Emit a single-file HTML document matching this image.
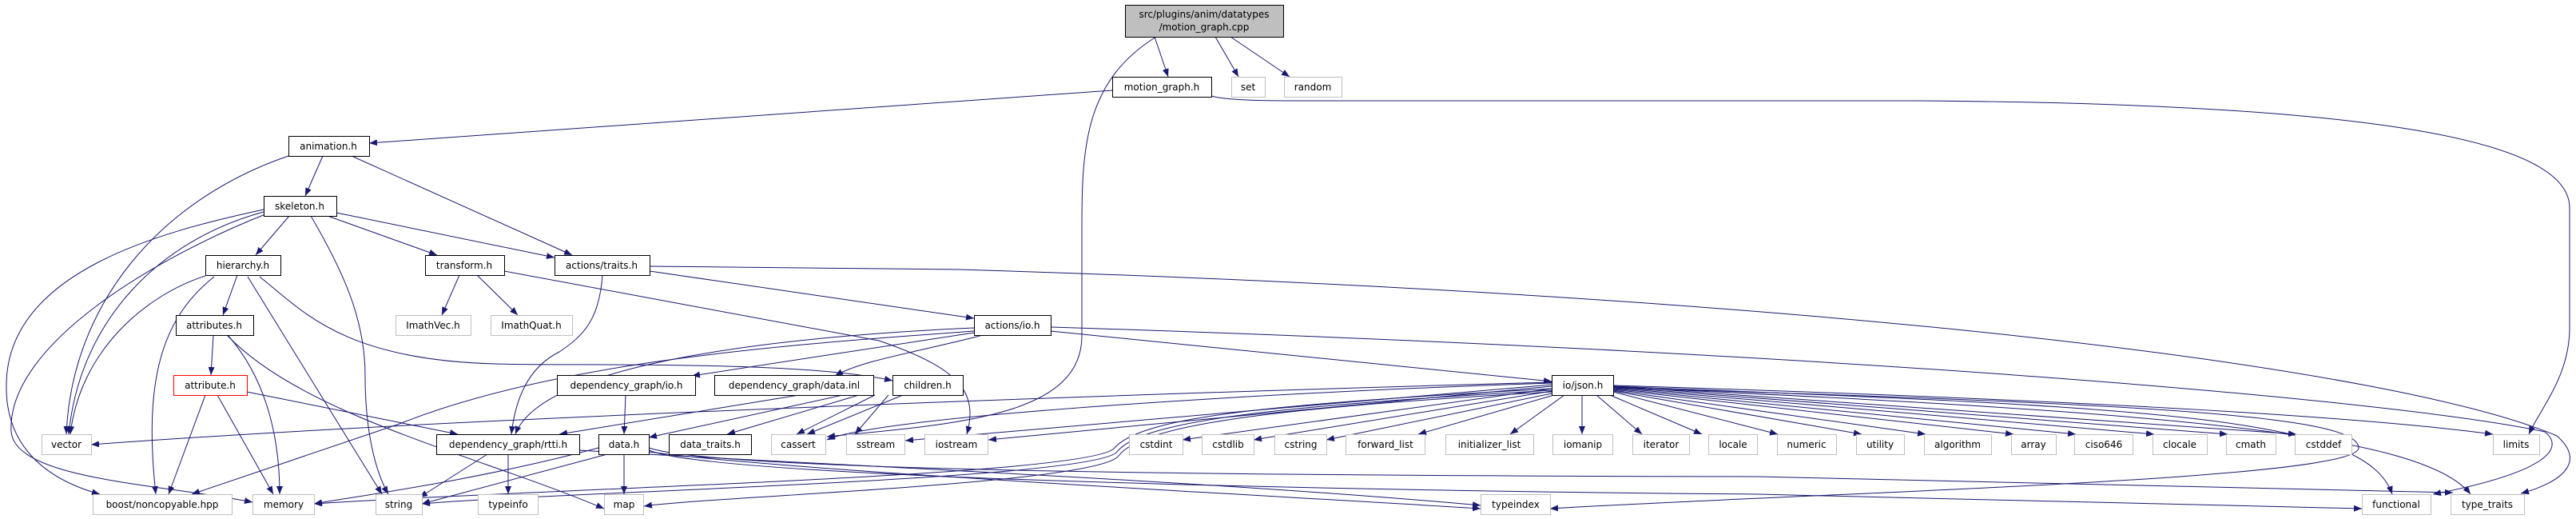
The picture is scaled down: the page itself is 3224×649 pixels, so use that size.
<!DOCTYPE html>
<html><head><meta charset="utf-8"><style>
html,body{margin:0;padding:0;background:#fff;}
svg{display:block;}
text{font-family:"DejaVu Sans","Liberation Sans",sans-serif;font-size:12px;fill:#000;}
.n{fill:#fff;stroke:#000;stroke-width:1;}
.g{fill:#fff;stroke:#bfbfbf;stroke-width:1;}
.e{fill:none;stroke:#191970;stroke-width:1;}
</style></head><body>
<svg width="3224" height="649" viewBox="0 0 3224 649" xmlns="http://www.w3.org/2000/svg">
<defs><marker id="a" markerUnits="userSpaceOnUse" markerWidth="10" markerHeight="8" refX="10" refY="4" orient="auto"><path d="M0,0 L10,4 L0,8 z" fill="#191970"/></marker></defs>
<g class="e" marker-end="url(#a)">
<path d="M1445,46 L1462,96"/>
<path d="M1521,46 L1550,96"/>
<path d="M1540,46 L1614,96"/>
<path d="M1447,46 C1360,100 1354,180 1354,280 L1354,420 C1354,520 1200,530 1035,546"/>
<path d="M1392,113 L462,179"/>
<path d="M1516,120 C1540,127 1600,126 1700,126 L2400,126 C3000,130 3216,180 3216,260 L3216,410 C3216,470 3180,510 3165,543"/>
<path d="M361,195 C200,250 90,380 83,543"/>
<path d="M404,195 L382,245"/>
<path d="M440,195 L716,319"/>
<path d="M362,270 L320,319"/>
<path d="M410,270 L547,319"/>
<path d="M421,266 L694,322"/>
<path d="M389,270 C430,340 457,400 457,470 C457,540 470,590 486,618"/>
<path d="M330,265 C200,300 100,400 86,543"/>
<path d="M330,262 C200,290 10,340 8,480 C6,560 60,600 125,618"/>
<path d="M332,268 C200,320 8,430 14,540 C20,600 200,605 316,628"/>
<path d="M297,344 L279,394"/>
<path d="M257,345 C180,370 100,440 88,543"/>
<path d="M268,346 C200,400 180,480 195,618"/>
<path d="M310,346 L478,618"/>
<path d="M325,346 C380,390 430,450 620,455 C720,458 1000,450 1117,476"/>
<path d="M267,419 L264,469"/>
<path d="M285,419 C330,470 350,540 350,618"/>
<path d="M284,419 C380,520 600,570 756,636"/>
<path d="M257,494 L211,618"/>
<path d="M272,494 L342,618"/>
<path d="M309,490 L573,543"/>
<path d="M575,344 L553,394"/>
<path d="M597,344 L648,394"/>
<path d="M631,339 L1100,426 C1200,460 1225,490 1210,543"/>
<path d="M754,344 C750,400 730,420 700,440 C660,460 645,500 640,543"/>
<path d="M813,339 L1219,398"/>
<path d="M813,333 L1200,337 C2300,370 3000,460 3200,545 C3240,580 3200,605 3155,617"/>
<path d="M1219,410 C1000,420 680,450 645,543"/>
<path d="M1219,414 C1000,430 700,450 500,530 L240,618"/>
<path d="M1219,416 L866,470"/>
<path d="M1230,419 C1150,440 1080,450 1045,470"/>
<path d="M1315,414 L1942,477"/>
<path d="M1315,409 C2300,440 3000,500 3185,540 C3210,560 3190,590 3045,618"/>
<path d="M1130,494 L1010,543"/>
<path d="M783,494 L781,543"/>
<path d="M1000,494 L700,543"/>
<path d="M1055,494 L812,547"/>
<path d="M1075,494 L910,543"/>
<path d="M1095,494 L997,543"/>
<path d="M1112,494 L1070,543"/>
<path d="M749,560 C600,600 450,620 393,630"/>
<path d="M760,568 L528,630"/>
<path d="M781,568 L781,618"/>
<path d="M812,565 C1000,590 1600,620 1853,636"/>
<path d="M812,563 C900,600 1800,615 2200,618 L2956,636"/>
<path d="M812,560 C900,590 1600,595 2200,596 L3070,616"/>
<path d="M610,568 L525,622"/>
<path d="M636,568 L636,618"/>
<path d="M725,563 C1000,580 1500,600 1853,632"/>
<path d="M1942,478 C1500,490 600,520 114,556"/>
<path d="M1942,479 C1600,490 1100,520 1035,550"/>
<path d="M1942,481 L1133,551"/>
<path d="M1942,483 L1237,550"/>
<path d="M1942,486 L1480,550"/>
<path d="M1942,489 L1569,550"/>
<path d="M1942,492 L1660,550"/>
<path d="M1945,494 L1775,543"/>
<path d="M1958,494 L1890,543"/>
<path d="M1980,494 L1980,543"/>
<path d="M1998,494 L2055,543"/>
<path d="M2015,494 L2130,543"/>
<path d="M2019,490 L2225,543"/>
<path d="M2019,489 L2330,543"/>
<path d="M2019,488 L2410,543"/>
<path d="M2019,487 L2520,543"/>
<path d="M2019,486 L2598,543"/>
<path d="M2019,485 L2696,543"/>
<path d="M2019,484 L2788,543"/>
<path d="M2019,483 L2874,543"/>
<path d="M2019,482 C2600,500 2950,520 3120,543"/>
<path d="M1942,486 C1600,505 1430,520 1395,560 C1370,595 700,610 393,630"/>
<path d="M1942,488 C1600,508 1430,525 1398,565 C1370,600 700,615 528,630"/>
<path d="M1942,490 C1600,510 1430,530 1400,570 C1375,605 900,620 806,633"/>
<path d="M2019,485 C2700,505 2952,520 2952,560 C2952,600 2300,615 1940,636"/>
<path d="M2019,483 C2700,510 2960,520 2994,618"/>
<path d="M2019,484 C2700,515 3030,540 3092,618"/>
</g>
<g>
<rect x="1408.5" y="6.5" width="198" height="40" fill="#bfbfbf" stroke="#000"/>
<text x="1507" y="22" text-anchor="middle">src/plugins/anim/datatypes</text>
<text x="1507" y="38" text-anchor="middle">/motion_graph.cpp</text>
</g>
<g text-anchor="middle">
<rect class="n" x="1392.5" y="96.5" width="124" height="25"/><text x="1454" y="113">motion_graph.h</text>
<rect class="g" x="1541.5" y="96.5" width="42" height="25"/><text x="1562" y="113">set</text>
<rect class="g" x="1607.5" y="96.5" width="72" height="25"/><text x="1643" y="113">random</text>
<rect class="n" x="361.5" y="170.5" width="101" height="25"/><text x="411" y="187">animation.h</text>
<rect class="n" x="330.5" y="245.5" width="91" height="25"/><text x="375" y="262">skeleton.h</text>
<rect class="n" x="257.5" y="319.5" width="94" height="25"/><text x="304" y="336">hierarchy.h</text>
<rect class="n" x="532.5" y="319.5" width="99" height="25"/><text x="581" y="336">transform.h</text>
<rect class="n" x="694.5" y="319.5" width="119" height="25"/><text x="753" y="336">actions/traits.h</text>
<rect class="n" x="220.5" y="394.5" width="97" height="25"/><text x="268" y="411">attributes.h</text>
<rect class="g" x="495.5" y="394.5" width="94" height="25"/><text x="542" y="411">ImathVec.h</text>
<rect class="g" x="614.5" y="394.5" width="102" height="25"/><text x="665" y="411">ImathQuat.h</text>
<rect class="n" x="1219.5" y="394.5" width="96" height="25"/><text x="1267" y="411">actions/io.h</text>
<rect x="217.5" y="469.5" width="92" height="25" fill="#fff" stroke="#ff0000"/><text x="263" y="486">attribute.h</text>
<rect class="n" x="697.5" y="469.5" width="173" height="25"/><text x="784" y="486">dependency_graph/io.h</text>
<rect class="n" x="894.5" y="469.5" width="199" height="25"/><text x="994" y="486">dependency_graph/data.inl</text>
<rect class="n" x="1117.5" y="469.5" width="88" height="25"/><text x="1161" y="486">children.h</text>
<rect class="n" x="1942.5" y="469.5" width="77" height="25"/><text x="1981" y="486">io/json.h</text>

<rect class="g" x="52.5" y="543.5" width="62" height="25"/><text x="83" y="560">vector</text>
<rect class="n" x="546.5" y="543.5" width="179" height="25"/><text x="636" y="560">dependency_graph/rtti.h</text>
<rect class="n" x="749.5" y="543.5" width="63" height="25"/><text x="781" y="560">data.h</text>
<rect class="n" x="837.5" y="543.5" width="103" height="25"/><text x="889" y="560">data_traits.h</text>
<rect class="g" x="965.5" y="543.5" width="68" height="25"/><text x="999" y="560">cassert</text>
<rect class="g" x="1059.5" y="543.5" width="73" height="25"/><text x="1096" y="560">sstream</text>
<rect class="g" x="1157.5" y="543.5" width="79" height="25"/><text x="1197" y="560">iostream</text>
<rect class="g" x="1413.5" y="543.5" width="67" height="25"/><text x="1447" y="560">cstdint</text>
<rect class="g" x="1504.5" y="543.5" width="65" height="25"/><text x="1537" y="560">cstdlib</text>
<rect class="g" x="1595.5" y="543.5" width="65" height="25"/><text x="1628" y="560">cstring</text>
<rect class="g" x="1684.5" y="543.5" width="99" height="25"/><text x="1734" y="560">forward_list</text>
<rect class="g" x="1809.5" y="543.5" width="110" height="25"/><text x="1864" y="560">initializer_list</text>
<rect class="g" x="1943.5" y="543.5" width="75" height="25"/><text x="1981" y="560">iomanip</text>
<rect class="g" x="2043.5" y="543.5" width="71" height="25"/><text x="2079" y="560">iterator</text>
<rect class="g" x="2138.5" y="543.5" width="61" height="25"/><text x="2169" y="560">locale</text>
<rect class="g" x="2224.5" y="543.5" width="74" height="25"/><text x="2261" y="560">numeric</text>
<rect class="g" x="2323.5" y="543.5" width="60" height="25"/><text x="2353" y="560">utility</text>
<rect class="g" x="2408.5" y="543.5" width="84" height="25"/><text x="2450" y="560">algorithm</text>
<rect class="g" x="2517.5" y="543.5" width="56" height="25"/><text x="2545" y="560">array</text>
<rect class="g" x="2596.5" y="543.5" width="73" height="25"/><text x="2633" y="560">ciso646</text>
<rect class="g" x="2694.5" y="543.5" width="68" height="25"/><text x="2728" y="560">clocale</text>
<rect class="g" x="2786.5" y="543.5" width="62" height="25"/><text x="2817" y="560">cmath</text>
<rect class="g" x="2872.5" y="543.5" width="71" height="25"/><text x="2908" y="560">cstddef</text>
<rect class="g" x="3120.5" y="543.5" width="58" height="25"/><text x="3149" y="560">limits</text>

<rect class="g" x="116.5" y="618.5" width="174" height="25"/><text x="203" y="635">boost/noncopyable.hpp</text>
<rect class="g" x="316.5" y="618.5" width="77" height="25"/><text x="355" y="635">memory</text>
<rect class="g" x="470.5" y="618.5" width="58" height="25"/><text x="499" y="635">string</text>
<rect class="g" x="598.5" y="618.5" width="75" height="25"/><text x="636" y="635">typeinfo</text>
<rect class="g" x="756.5" y="618.5" width="49" height="25"/><text x="781" y="635">map</text>
<rect class="g" x="1853.5" y="618.5" width="87" height="25"/><text x="1897" y="635">typeindex</text>
<rect class="g" x="2956.5" y="618.5" width="86" height="25"/><text x="2999" y="635">functional</text>
<rect class="g" x="3067.5" y="618.5" width="92" height="25"/><text x="3113" y="635">type_traits</text>
</g>
</svg>
</body></html>
